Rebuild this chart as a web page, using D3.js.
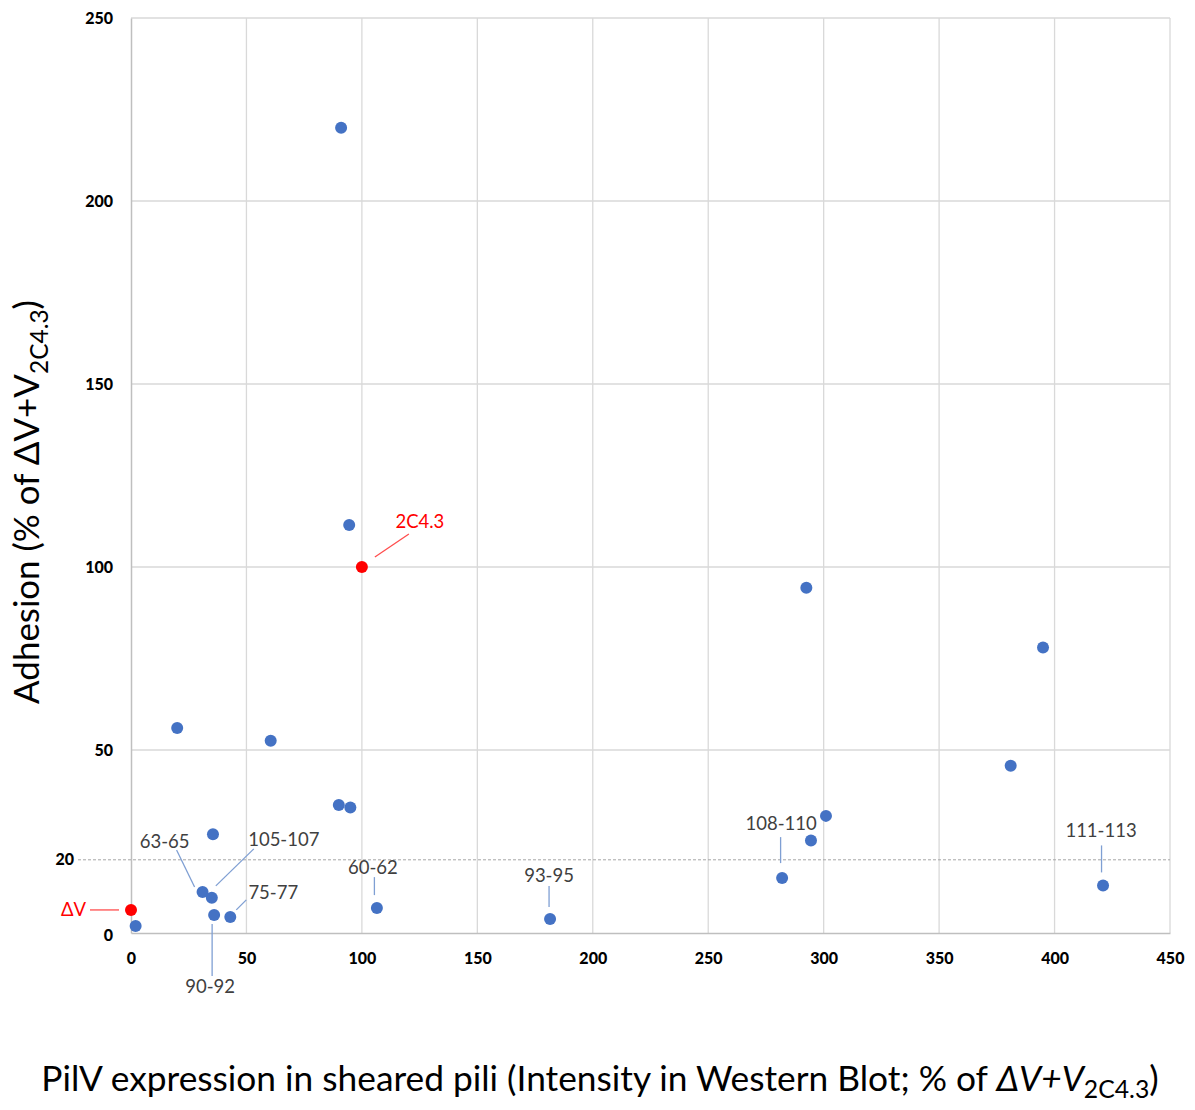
<!DOCTYPE html>
<html><head><meta charset="utf-8">
<script src="https://cdn.jsdelivr.net/npm/d3@7"></script>
<style>body{margin:0;background:#fff;} svg{display:block;}</style>
</head><body>
<script>
// ---- data ----
const pilV     = [91, 94.5, 292.5, 395, 20, 60.5, 381, 90, 95, 301, 35.5, 294.5, 282, 421, 31, 35, 36, 43, 106.5, 181.5, 2];
const adhesion = [220, 111.5, 94.3, 78, 56, 52.5, 45.7, 35, 34.3, 32, 27, 25.3, 15, 13, 11.2, 9.6, 4.9, 4.4, 6.8, 3.8, 1.9];
const names    = ["", "", "", "", "", "", "", "", "", "", "", "", "108-110", "111-113", "63-65", "105-107", "90-92", "75-77", "60-62", "93-95", ""];
const refPilV     = [0, 100];
const refAdhesion = [6.3, 100];
const refNames    = ["ΔV", "2C4.3"];
const xTicks = [0, 50, 100, 150, 200, 250, 300, 350, 400, 450];
const yTicks = [0, 50, 100, 150, 200, 250];
const threshold = 20;

// ---- layout ----
const W = 1195, H = 1110;
const x = d3.scaleLinear().domain([0, 450]).range([131, 1170]);
const y = d3.scaleLinear().domain([0, 250]).range([933, 18]);
const leaders = {
  "63-65":   {l:[-26,-42,-8,-5],  t:[-38,-44,"middle"]},
  "105-107": {l:[42,-49,4,-12],   t:[72,-52,"middle"]},
  "90-92":   {l:[-2,9,-2,61],     t:[-4,78,"middle"]},
  "75-77":   {l:[6,-7,16,-17],    t:[43,-18,"middle"]},
  "60-62":   {l:[-2.5,-31,-2.5,-13], t:[-4,-34,"middle"]},
  "93-95":   {l:[-1,-33,-1,-12],  t:[-1,-37,"middle"]},
  "108-110": {l:[-1.5,-41,-1.5,-15], t:[-1,-48,"middle"]},
  "111-113": {l:[-1.5,-40,-1.5,-13], t:[-2,-48,"middle"]},
  "ΔV":      {l:[-41,0,-12,0],    t:[-45,6,"end"]},
  "2C4.3":   {l:[13,-10,47,-33],  t:[58,-39,"middle"]}
};
const tickFont = "Lato, 'Liberation Sans', sans-serif";

const svg = d3.select("body").append("svg").attr("width", W).attr("height", H);

// gridlines
svg.append("g").selectAll("line").data(xTicks.filter(d => d > 0)).join("line")
  .attr("x1", d => x(d)).attr("x2", d => x(d)).attr("y1", y(0)).attr("y2", y(250))
  .attr("stroke", "#d9d9d9").attr("stroke-width", 1.3);
svg.append("g").selectAll("line").data(yTicks.filter(d => d > 0)).join("line")
  .attr("x1", x(0)).attr("x2", x(450)).attr("y1", d => y(d)).attr("y2", d => y(d))
  .attr("stroke", "#d9d9d9").attr("stroke-width", 1.3);

// axes
const xAxis = d3.axisBottom(x).tickValues(xTicks).tickSize(0).tickPadding(20).tickFormat(d3.format("d"));
const gx = svg.append("g").attr("transform", `translate(0,${y(0)})`).call(xAxis);
gx.select(".domain").attr("stroke", "#bfbfbf").attr("stroke-width", 1.5);
gx.selectAll("text").attr("font-family", tickFont).attr("font-weight", 900)
  .attr("font-size", 16).attr("fill", "#000");

const yAxis = d3.axisLeft(y).tickValues(yTicks.concat([threshold])).tickSize(0).tickPadding(18).tickFormat(d3.format("d"));
const gy = svg.append("g").attr("transform", `translate(${x(0)},0)`).call(yAxis);
gy.select(".domain").attr("stroke", "#bfbfbf").attr("stroke-width", 1.5);
gy.selectAll(".tick").filter(d => d === 0).select("text").attr("dy", "0.45em");
gy.selectAll(".tick").filter(d => d === threshold).select("text").attr("x", -57);
gy.selectAll("text").attr("font-family", tickFont).attr("font-weight", 900)
  .attr("font-size", 16).attr("fill", "#000");

// threshold dashed line
svg.append("line").attr("x1", 78).attr("x2", x(450)).attr("y1", y(threshold)).attr("y2", y(threshold))
  .attr("stroke", "#a6a6a6").attr("stroke-width", 1).attr("stroke-dasharray", "3,2");

// points
const pts = pilV.map((v, i) => ({x: v, y: adhesion[i], name: names[i], ref: false}));
const refs = refPilV.map((v, i) => ({x: v, y: refAdhesion[i], name: refNames[i], ref: true}));
const all = pts.concat(refs);

const labeled = all.filter(d => d.name);
svg.append("g").selectAll("line").data(labeled).join("line")
  .attr("x1", d => x(d.x) + leaders[d.name].l[0]).attr("y1", d => y(d.y) + leaders[d.name].l[1])
  .attr("x2", d => x(d.x) + leaders[d.name].l[2]).attr("y2", d => y(d.y) + leaders[d.name].l[3])
  .attr("stroke", d => d.ref ? "#ff4d4d" : "#7f9fd3").attr("stroke-width", 1.3);
svg.append("g").selectAll("text").data(labeled).join("text")
  .attr("x", d => x(d.x) + leaders[d.name].t[0]).attr("y", d => y(d.y) + leaders[d.name].t[1])
  .attr("text-anchor", d => leaders[d.name].t[2])
  .attr("font-family", "Lato, 'Liberation Sans', sans-serif").attr("font-size", 18.5)
  .attr("fill", d => d.ref ? "#ff0000" : "#404040").text(d => d.name);

svg.append("g").selectAll("circle").data(all).join("circle")
  .attr("cx", d => x(d.x)).attr("cy", d => y(d.y)).attr("r", 6)
  .attr("fill", d => d.ref ? "#ff0000" : "#4472c4");

// axis titles, fitted to the reference extents
function fit(sel, target, subShift) {
  const fs = +sel.attr("font-size");
  const w = sel.node().getComputedTextLength();
  const nfs = fs * target / w;
  sel.attr("font-size", nfs);
  sel.selectAll("tspan.sub").attr("font-size", nfs * 0.7).attr("dy", nfs * subShift);
  sel.selectAll("tspan.after").attr("dy", -nfs * subShift);
}
const xt = svg.append("text").attr("x", 600).attr("y", 1091).attr("text-anchor", "middle")
  .attr("font-family", "Lato, 'Open Sans', sans-serif").attr("font-size", 30).attr("fill", "#000");
xt.append("tspan").text("PilV expression in sheared pili (Intensity in Western Blot; % of ");
xt.append("tspan").attr("font-style", "italic").text("ΔV+V");
xt.append("tspan").attr("class", "sub").attr("font-size", 21).attr("dy", 7).text("2C4.3");
xt.append("tspan").attr("class", "after").attr("dy", -7).text(")");
fit(xt, 1118, 0.2);

const yt = svg.append("text").attr("transform", "translate(39,502) rotate(-90)").attr("text-anchor", "middle")
  .attr("font-family", "Lato, 'Open Sans', sans-serif").attr("font-size", 30).attr("fill", "#000");
yt.append("tspan").text("Adhesion (% of ΔV+V");
yt.append("tspan").attr("class", "sub").attr("font-size", 21).attr("dy", 7).text("2C4.3");
yt.append("tspan").attr("class", "after").attr("dy", -7).text(")");
fit(yt, 404, 0.25);
</script>
</body></html>
